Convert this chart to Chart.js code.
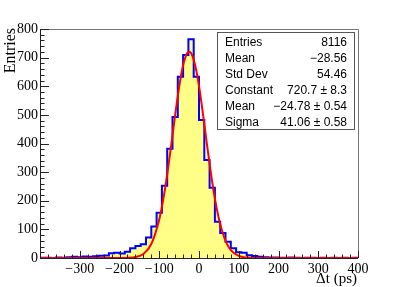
<!DOCTYPE html>
<html>
<head>
<meta charset="utf-8">
<script src="https://cdn.jsdelivr.net/npm/chart.js@4"></script>
<style>
  body { margin: 0; background: #fff; }
  canvas { display: block; }
</style>
</head>
<body>
<canvas id="dtChart" width="398" height="287"></canvas>
<script>
// histogram: 60 bins from -400 to 400 ps
const histLow = -400;
const histHigh = 400;
const counts = [1, 1, 0, 2, 1, 3, 4, 3, 5, 4,
  6, 8, 9, 17, 18, 16, 22, 34, 42, 48,
  72, 110, 158, 252, 382, 493, 633, 709, 764, 633,
  482, 342, 245, 127, 87, 57, 34, 20, 18, 10,
  7, 4, 3, 2, 2, 1, 1, 2, 1, 0,
  1, 1, 0, 1, 0, 1, 0, 1, 0, 1];

// gaussian fit curve
const fitX = [-400, -300, -220, -200, -180, -160, -140, -120, -100, -90, -80, -70, -60, -50, -40, -30, -25,
  -20, -10, 0, 10, 20, 30, 40, 50, 60, 70, 80, 100, 120, 140, 180, 300, 400];
const fitY = [0, 0, 0, 0.1, 0.6, 3.2, 14.1, 49, 134.8, 204, 292, 393, 499, 597, 673, 715, 720.7,
  716, 675, 601, 503, 397, 296, 207.5, 137, 85.4, 50.2, 27.7, 7.1, 1.4, 0.2, 0, 0, 0];

const statNames = ['Entries', 'Mean', 'Std Dev', 'Constant', 'Mean', 'Sigma'];
const statValues = ['8116', '\u221228.56', '54.46', '720.7 \u00b1 8.3', '\u221224.78 \u00b1 0.54', '41.06 \u00b1 0.58'];

const xTitle = '\u0394t (ps)';
const yTitle = 'Entries';

const binWidth = (histHigh - histLow) / counts.length;
const histPoints = counts.map((c, i) => ({x: histLow + i * binWidth, y: c}));
histPoints.push({x: histHigh, y: counts[counts.length - 1]});
const fitPoints = fitX.map((x, i) => ({x: x, y: fitY[i]}));

const serif = '"Liberation Serif", "Times New Roman", serif';
const sans = '"Liberation Sans", Arial, sans-serif';

function minusFmt(v) {
  return v < 0 ? '\u2212' + Math.abs(v) : String(v);
}

const rootFrame = {
  id: 'rootFrame',
  afterDraw(chart) {
    const ctx = chart.ctx;
    const a = chart.chartArea;
    const xs = chart.scales.x, ys = chart.scales.y;
    ctx.save();
    // frame
    ctx.strokeStyle = '#777';
    ctx.lineWidth = 1;
    ctx.beginPath();
    ctx.moveTo(a.left, a.top + 0.5);
    ctx.lineTo(a.right + 0.5, a.top + 0.5);
    ctx.lineTo(a.right + 0.5, a.bottom);
    ctx.stroke();
    // axes
    ctx.strokeStyle = '#222';
    ctx.beginPath();
    ctx.moveTo(a.left + 0.5, a.top);
    ctx.lineTo(a.left + 0.5, a.bottom + 0.5);
    ctx.lineTo(a.right, a.bottom + 0.5);
    // x ticks (inside)
    for (let v = histLow; v <= histHigh; v += 20) {
      const px = Math.round(xs.getPixelForValue(v)) + 0.5;
      const len = v % 100 === 0 ? 7 : 3.5;
      ctx.moveTo(px, a.bottom);
      ctx.lineTo(px, a.bottom - len);
    }
    // y ticks (inside)
    for (let v = 0; v <= 800; v += 20) {
      const py = Math.round(ys.getPixelForValue(v)) + 0.5;
      const len = v % 100 === 0 ? 9 : 4.5;
      ctx.moveTo(a.left, py);
      ctx.lineTo(a.left + len, py);
    }
    ctx.stroke();

    // axis titles
    ctx.fillStyle = '#000';
    ctx.font = '15px ' + serif;
    ctx.textAlign = 'right';
    ctx.textBaseline = 'alphabetic';
    ctx.fillText(xTitle, a.right - 1, 283);
    ctx.save();
    ctx.translate(15, a.top - 1);
    ctx.rotate(-Math.PI / 2);
    ctx.font = '16px ' + serif;
    ctx.textAlign = 'right';
    ctx.fillText(yTitle, 0, 0);
    ctx.restore();

    // stats box
    const bx = 217.5, by = 32.5, bw = 137, bh = 97;
    ctx.fillStyle = '#fff';
    ctx.fillRect(bx, by, bw, bh);
    ctx.strokeStyle = '#555';
    ctx.strokeRect(bx, by, bw, bh);
    ctx.fillStyle = '#000';
    ctx.font = '12px ' + sans;
    for (let i = 0; i < statNames.length; i++) {
      const y = 45.5 + i * 16;
      ctx.textAlign = 'left';
      ctx.fillText(statNames[i], 225, y);
      ctx.textAlign = 'right';
      ctx.fillText(statValues[i], 347, y);
    }
    ctx.restore();
  }
};

new Chart(document.getElementById('dtChart').getContext('2d'), {
  type: 'line',
  data: {
    datasets: [{
      label: 'histogram',
      data: histPoints,
      order: 2,
      stepped: 'before',
      borderColor: '#0000ff',
      borderWidth: 2,
      backgroundColor: '#ffff88',
      fill: 'origin',
      pointRadius: 0
    }, {
      label: 'fit',
      data: fitPoints,
      order: 1,
      borderColor: '#ff0000',
      borderWidth: 2,
      cubicInterpolationMode: 'monotone',
      fill: false,
      pointRadius: 0
    }]
  },
  options: {
    responsive: false,
    animation: false,
    layout: { padding: { top: 29, right: 40, left: 0, bottom: 0 } },
    plugins: {
      legend: { display: false },
      tooltip: { enabled: false }
    },
    scales: {
      x: {
        type: 'linear',
        min: histLow,
        max: histHigh,
        grid: { display: false, drawTicks: false },
        border: { display: false },
        ticks: {
          stepSize: 100,
          padding: 3,
          maxRotation: 0,
          color: '#000',
          font: { family: serif, size: 14 },
          callback: (v) => v === histLow ? '' : minusFmt(v)
        },
        afterFit: (s) => { s.height = 29; }
      },
      y: {
        min: 0,
        max: 800,
        grid: { display: false, drawTicks: false },
        border: { display: false },
        ticks: {
          stepSize: 100,
          padding: 2,
          color: '#000',
          font: { family: serif, size: 14 },
          callback: (v) => minusFmt(v)
        },
        afterFit: (s) => { s.width = 40; }
      }
    }
  },
  plugins: [rootFrame]
});
</script>
</body>
</html>
